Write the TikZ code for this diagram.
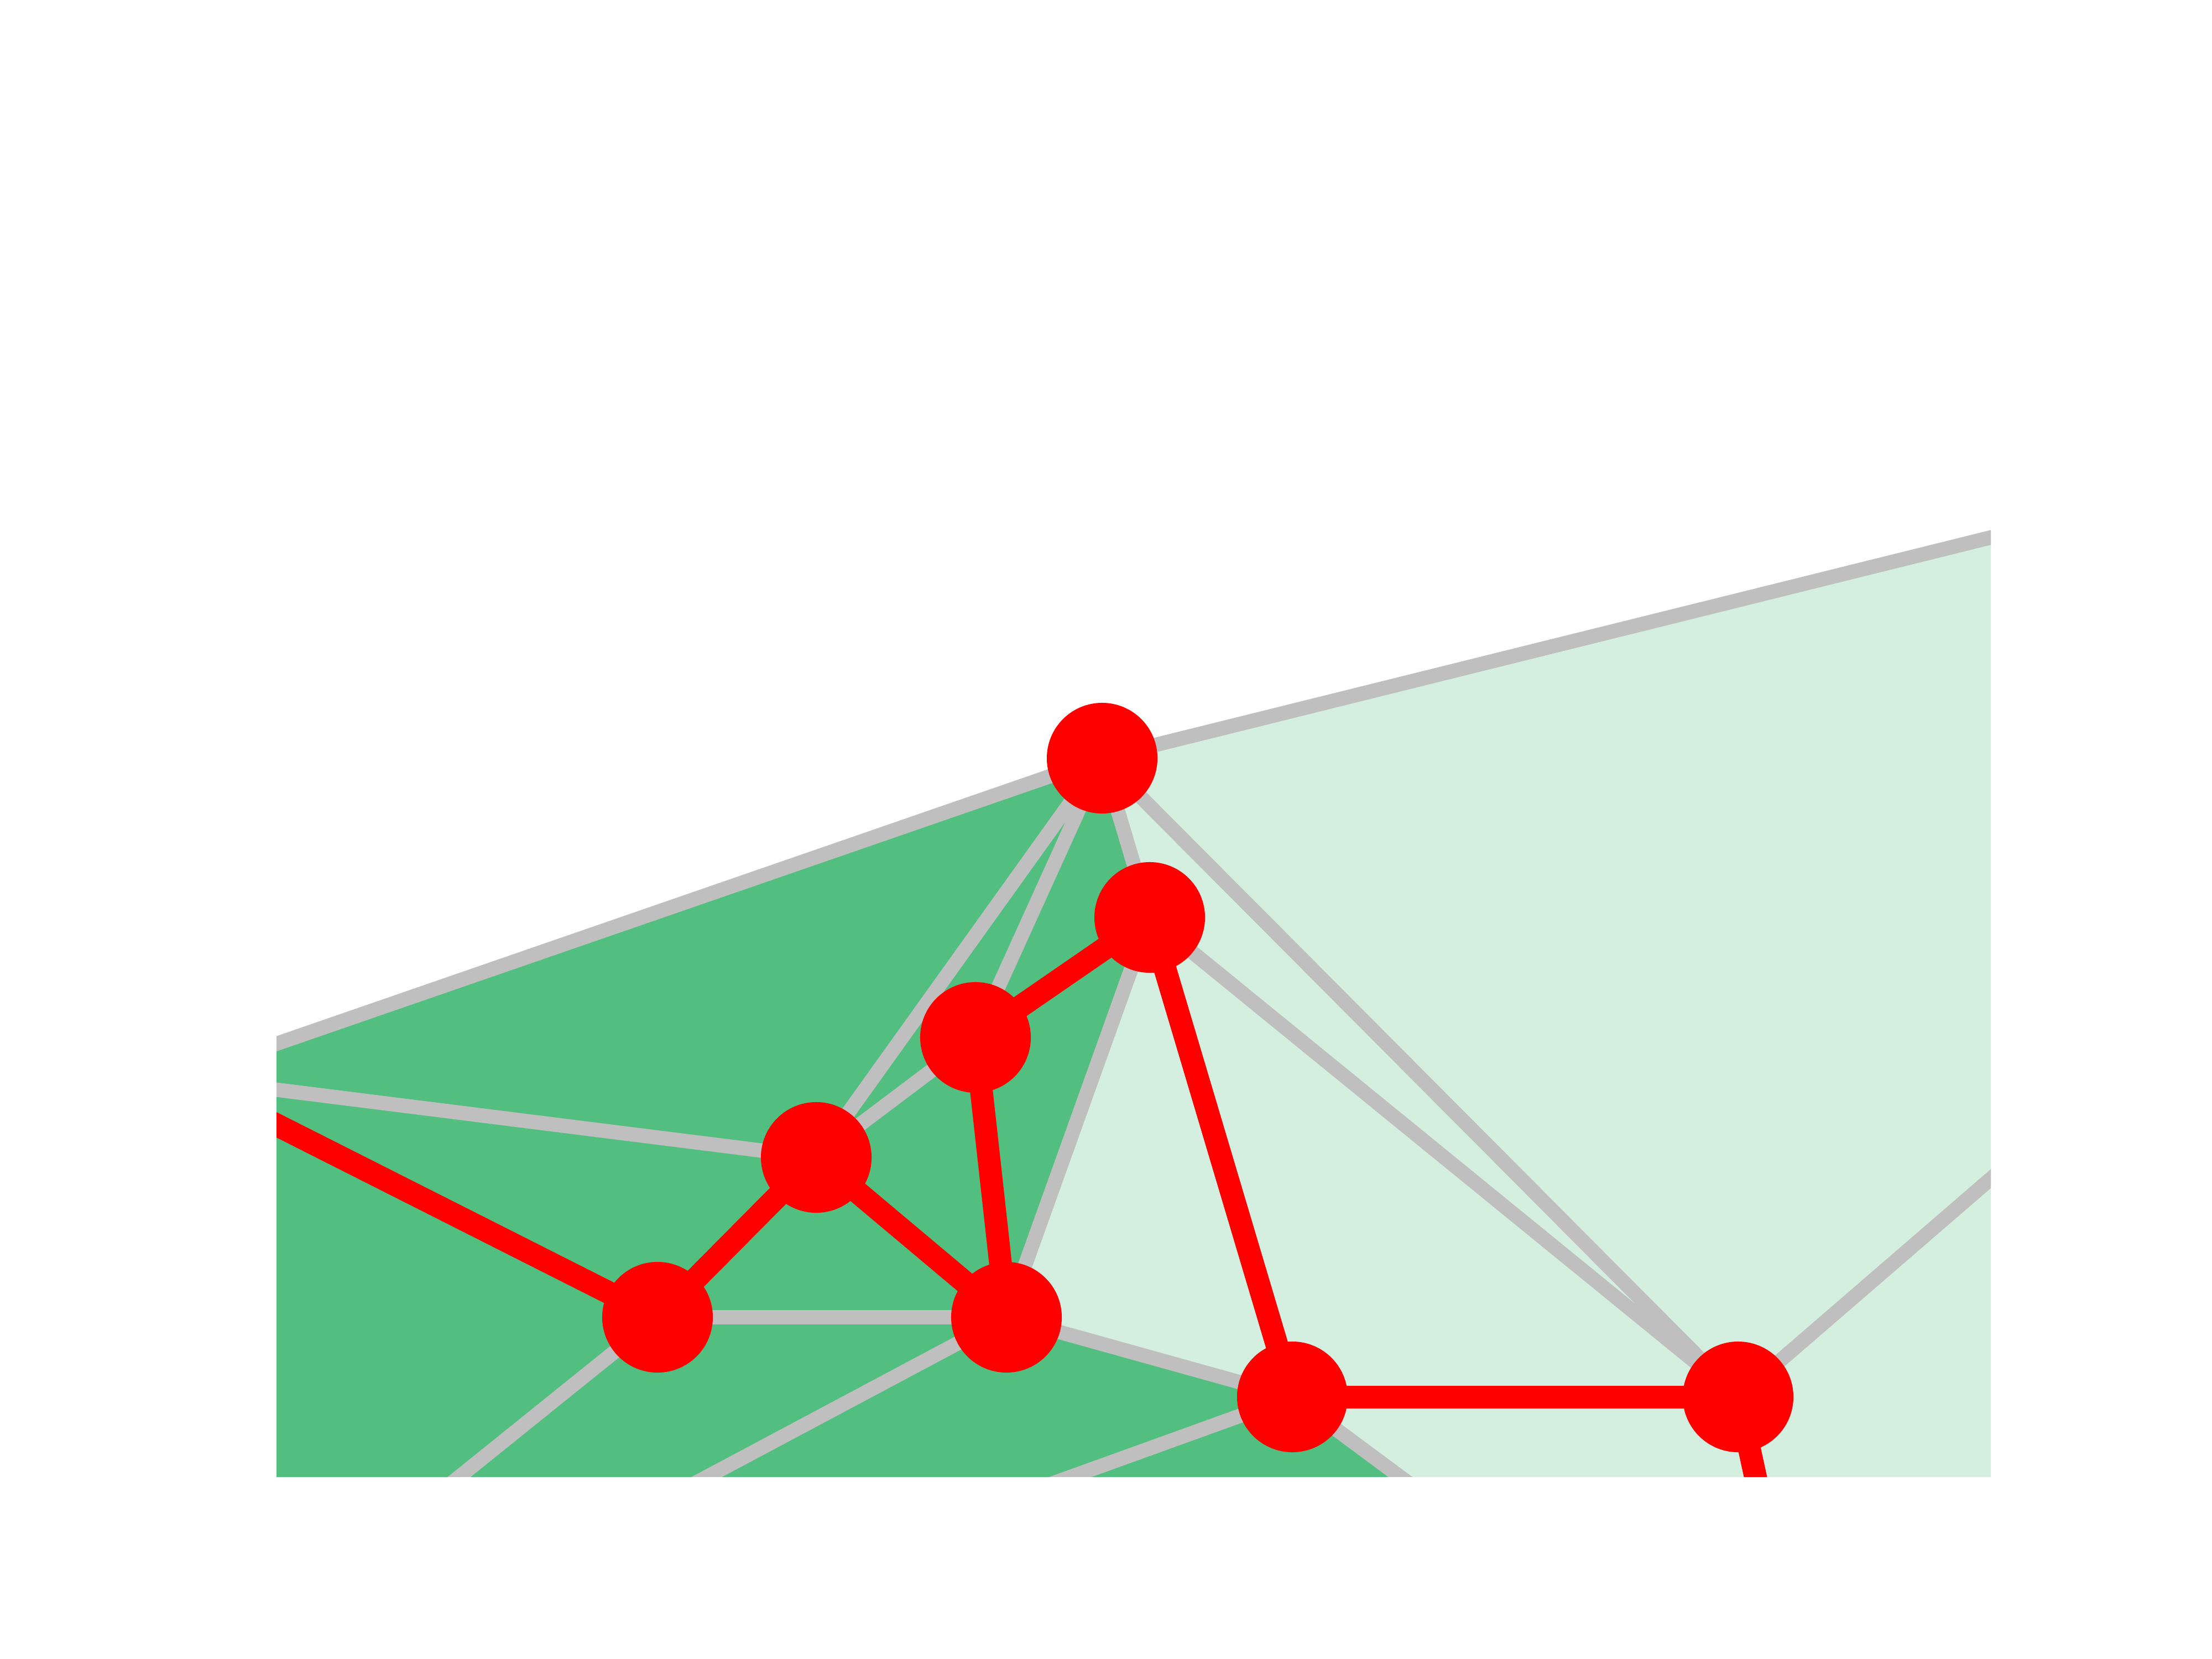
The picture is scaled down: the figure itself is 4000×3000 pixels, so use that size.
\documentclass[tikz,border=0pt]{standalone}
\pgfdeclarelayer{fills}
\pgfdeclarelayer{grays}
\pgfdeclarelayer{reds}
\pgfsetlayers{fills,grays,reds,main}
\definecolor{darkgreen}{HTML}{52BE80}
\definecolor{lightgreen}{HTML}{D4EFDF}
\definecolor{edgegray}{HTML}{BFBFBF}
\begin{document}
\begin{tikzpicture}[x=0.01cm,y=-0.01cm,
  vertex/.style={circle, fill=red, draw=none, inner sep=0pt, minimum size=2cm},
  grayedge/.style={draw=edgegray, line width=0.26cm},
  rededge/.style={draw=red, line width=0.41cm}]
\useasboundingbox (0,0) rectangle (4000,3000);
% vertices
\node[vertex] (A) at (1993,1371) {};
\node[vertex] (B) at (2079,1659) {};
\node[vertex] (C) at (1764,1876) {};
\node[vertex] (D) at (1476,2093) {};
\node[vertex] (E) at (1189,2382) {};
\node[vertex] (F) at (1820,2382) {};
\node[vertex] (G) at (2337,2526) {};
\node[vertex] (H) at (3143,2526) {};
% free ends (outside the plot area)
\coordinate (tl) at (400,1922);
\coordinate (tr) at (3700,947);
\coordinate (ld) at (400,1958);
\coordinate (le) at (400,1983.5);
\coordinate (ell) at (707,2770);
\coordinate (fll) at (1092,2770);
\coordinate (gll) at (1661,2770);
\coordinate (glr) at (2666,2770);
\coordinate (hd) at (3196,2770);
\coordinate (hur) at (3700,2045);
\coordinate (cbl) at (400,2770);
\coordinate (cbr) at (3700,2770);
\begin{pgfonlayer}{fills}
  \fill[white] (0,0) rectangle (4000,3000);
  \begin{scope}
    \clip (500,360) rectangle (3600,2670);
    \fill[darkgreen] (tl) -- (A.center) -- (B.center) -- (F.center) -- (G.center) -- (glr) -- (cbl) -- cycle;
    \fill[lightgreen] (A.center) -- (tr) -- (cbr) -- (glr) -- (G.center) -- (F.center) -- (B.center) -- cycle;
  \end{scope}
\end{pgfonlayer}
\begin{pgfonlayer}{grays}
  \begin{scope}
    \clip (500,360) rectangle (3600,2670);
    \draw[grayedge] (tl) -- (A.center);
    \draw[grayedge] (A.center) -- (tr);
    \draw[grayedge] (ld) -- (D.center);
    \draw[grayedge] (A.center) -- (D.center);
    \draw[grayedge] (A.center) -- (C.center);
    \draw[grayedge] (A.center) -- (B.center);
    \draw[grayedge] (A.center) -- (H.center);
    \draw[grayedge] (C.center) -- (D.center);
    \draw[grayedge] (B.center) -- (F.center);
    \draw[grayedge] (B.center) -- (H.center);
    \draw[grayedge] (E.center) -- (F.center);
    \draw[grayedge] (F.center) -- (G.center);
    \draw[grayedge] (E.center) -- (ell);
    \draw[grayedge] (F.center) -- (fll);
    \draw[grayedge] (G.center) -- (gll);
    \draw[grayedge] (G.center) -- (glr);
    \draw[grayedge] (H.center) -- (hur);
  \end{scope}
\end{pgfonlayer}
\begin{pgfonlayer}{reds}
  \begin{scope}
    \clip (500,360) rectangle (3600,2670);
    \draw[rededge] (le) -- (E.center);
    \draw[rededge] (E.center) -- (D.center);
    \draw[rededge] (D.center) -- (F.center);
    \draw[rededge] (C.center) -- (F.center);
    \draw[rededge] (C.center) -- (B.center);
    \draw[rededge] (B.center) -- (G.center);
    \draw[rededge] (G.center) -- (H.center);
    \draw[rededge] (H.center) -- (hd);
  \end{scope}
\end{pgfonlayer}
\end{tikzpicture}
\end{document}
